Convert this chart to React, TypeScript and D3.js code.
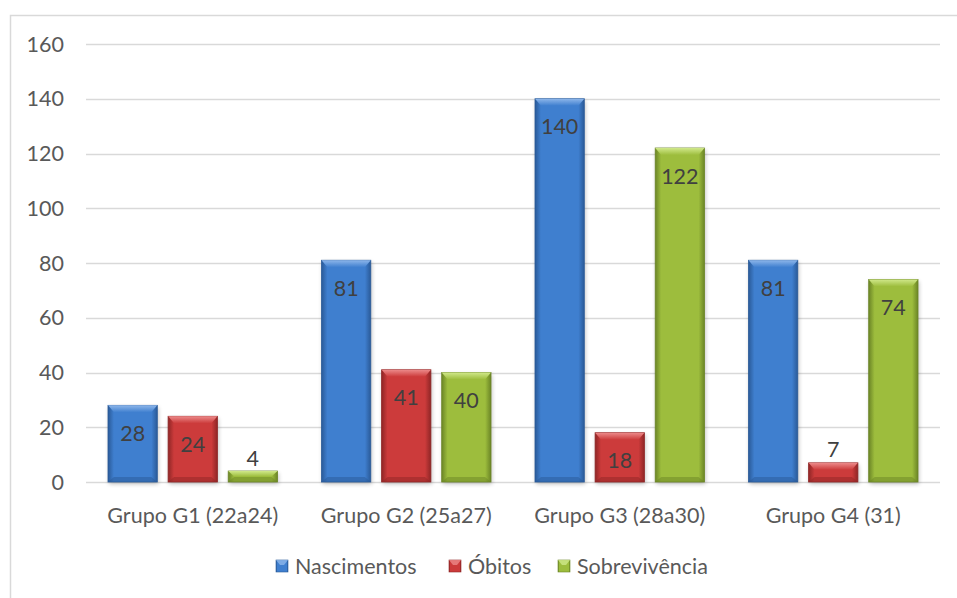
import { useRef, useEffect } from 'react'
import * as d3 from 'd3'

const groups = ['Grupo G1 (22a24)', 'Grupo G2 (25a27)', 'Grupo G3 (28a30)', 'Grupo G4 (31)']
const seriesNames = ['Nascimentos', 'Óbitos', 'Sobrevivência']
const nascimentos = [28, 81, 140, 81]
const obitos = [24, 41, 18, 7]
const sobrevivencia = [4, 40, 122, 74]
const yTicks = [0, 20, 40, 60, 80, 100, 120, 140, 160]

const palette = [
  { main: '#3f7fcf', light: '#8db6ea', dark: '#2a5a98' },
  { main: '#cc3b3b', light: '#ec8a8a', dark: '#8f2626' },
  { main: '#9dbd3d', light: '#d0e88a', dark: '#6b8526' },
]

export default function App() {
  const svgRef = useRef<SVGSVGElement>(null)

  useEffect(() => {
    if (!svgRef.current) return
    const svg = d3.select(svgRef.current)
    svg.selectAll('*').remove()

    const width = 957
    const height = 598
    const margin = { top: 44, right: 17, bottom: 116, left: 86 }
    const innerW = width - margin.left - margin.right
    const innerH = height - margin.top - margin.bottom
    const font = 'Lato, "Open Sans", sans-serif'
    const fs = 21.5

    svg.attr('width', width).attr('height', height)
    svg.append('rect').attr('width', width).attr('height', height).attr('fill', '#fff')

    // frame
    svg.append('rect')
      .attr('x', 10.5).attr('y', 15.5)
      .attr('width', width + 20).attr('height', height + 20)
      .attr('fill', 'none').attr('stroke', '#d9d9d9').attr('stroke-width', 1.5)

    const defs = svg.append('defs')
    palette.forEach((c, i) => {
      const lg = defs.append('linearGradient').attr('id', `bar${i}`).attr('x1', 0).attr('x2', 1).attr('y1', 0).attr('y2', 0)
      lg.append('stop').attr('offset', '0%').attr('stop-color', c.dark)
      lg.append('stop').attr('offset', '12%').attr('stop-color', c.main)
      lg.append('stop').attr('offset', '88%').attr('stop-color', c.main)
      lg.append('stop').attr('offset', '100%').attr('stop-color', c.dark)
      const tg = defs.append('linearGradient').attr('id', `top${i}`).attr('x1', 0).attr('x2', 0).attr('y1', 0).attr('y2', 1)
      tg.append('stop').attr('offset', '0%').attr('stop-color', c.light)
      tg.append('stop').attr('offset', '100%').attr('stop-color', c.main)
    })
    const blur = defs.append('filter').attr('id', 'shadow').attr('x', '-20%').attr('y', '-20%').attr('width', '140%').attr('height', '140%')
    blur.append('feGaussianBlur').attr('stdDeviation', 2)

    const g = svg.append('g').attr('transform', `translate(${margin.left},${margin.top})`)

    const y = d3.scaleLinear().domain([0, 160]).range([innerH, 0])
    const x0 = d3.scaleBand().domain(groups).range([0, innerW]).padding(0)
    const x1 = d3.scaleBand().domain(seriesNames).range([22, x0.bandwidth() - 22]).paddingInner(0.18)

    // gridlines
    g.selectAll('.grid')
      .data(yTicks)
      .join('line')
      .attr('x1', 0).attr('x2', innerW)
      .attr('y1', (d) => Math.round(y(d)) + 0.5).attr('y2', (d) => Math.round(y(d)) + 0.5)
      .attr('stroke', '#d9d9d9').attr('stroke-width', 1.5)

    g.selectAll('.ytick')
      .data(yTicks)
      .join('text')
      .attr('x', -22).attr('y', (d) => y(d))
      .attr('dy', '0.35em').attr('text-anchor', 'end')
      .attr('font-family', font).attr('font-size', fs).attr('fill', '#595959')
      .text((d) => d)

    const allSeries = [nascimentos, obitos, sobrevivencia]
    const bars = groups.flatMap((grp, gi) =>
      seriesNames.map((s, si) => ({ grp, s, si, v: allSeries[si][gi] })),
    )

    const bw = x1.bandwidth()
    const bar = g.selectAll('.bar').data(bars).join('g').attr('class', 'bar')
      .attr('transform', (d) => `translate(${x0(d.grp)! + x1(d.s)!},0)`)

    // soft shadow
    bar.append('rect')
      .attr('x', 1).attr('y', (d) => y(d.v) + 2)
      .attr('width', bw).attr('height', (d) => innerH - y(d.v))
      .attr('fill', '#000').attr('opacity', 0.25).attr('filter', 'url(#shadow)')

    bar.append('rect')
      .attr('y', (d) => y(d.v))
      .attr('width', bw).attr('height', (d) => innerH - y(d.v))
      .attr('fill', (d) => `url(#bar${d.si})`)
      .attr('stroke', (d) => palette[d.si].dark).attr('stroke-width', 0.8)

    // top bevel
    bar.append('path')
      .attr('d', (d) => {
        const t = y(d.v)
        const h = Math.min(7, (innerH - t) / 2)
        return `M0,${t}L${bw},${t}L${bw - 6},${t + h}L6,${t + h}Z`
      })
      .attr('fill', (d) => `url(#top${d.si})`)

    // bottom bevel
    bar.append('path')
      .attr('d', (d) => {
        const t = y(d.v)
        const h = Math.min(5, (innerH - t) / 2)
        return `M0,${innerH}L${bw},${innerH}L${bw - 6},${innerH - h}L6,${innerH - h}Z`
      })
      .attr('fill', (d) => palette[d.si].dark).attr('opacity', 0.5)

    // value labels
    bar.append('text')
      .attr('x', bw / 2)
      .attr('y', (d) => (innerH - y(d.v) > 40 ? y(d.v) + 28 : y(d.v) - 13))
      .attr('dy', '0.35em').attr('text-anchor', 'middle')
      .attr('font-family', font).attr('font-size', fs).attr('fill', '#404040')
      .text((d) => d.v)

    // x labels
    g.selectAll('.xlab')
      .data(groups)
      .join('text')
      .attr('x', (d) => x0(d)! + x0.bandwidth() / 2)
      .attr('y', innerH + 33)
      .attr('dy', '0.35em').attr('text-anchor', 'middle')
      .attr('font-family', font).attr('font-size', fs).attr('fill', '#595959')
      .text((d) => d)

    // legend
    const legendX = [276, 449, 558]
    const legend = svg.selectAll('.legend').data(seriesNames).join('g')
      .attr('transform', (_, i) => `translate(${legendX[i]},566)`)
    legend.append('rect')
      .attr('x', 0).attr('y', -6).attr('width', 12).attr('height', 12)
      .attr('fill', (_, i) => `url(#bar${i})`)
      .attr('stroke', (_, i) => palette[i].dark).attr('stroke-width', 0.6)
    legend.append('path')
      .attr('d', 'M0,-6L12,-6L8,-1L4,-1Z')
      .attr('fill', (_, i) => palette[i].light).attr('opacity', 0.8)
    legend.append('text')
      .attr('x', 19).attr('y', 0).attr('dy', '0.35em')
      .attr('font-family', font).attr('font-size', fs).attr('fill', '#595959')
      .text((d) => d)
  }, [])

  return (
    <div style={{ position: 'absolute', left: 0, top: 0 }}>
      <svg ref={svgRef} style={{ display: 'block' }} />
    </div>
  )
}
